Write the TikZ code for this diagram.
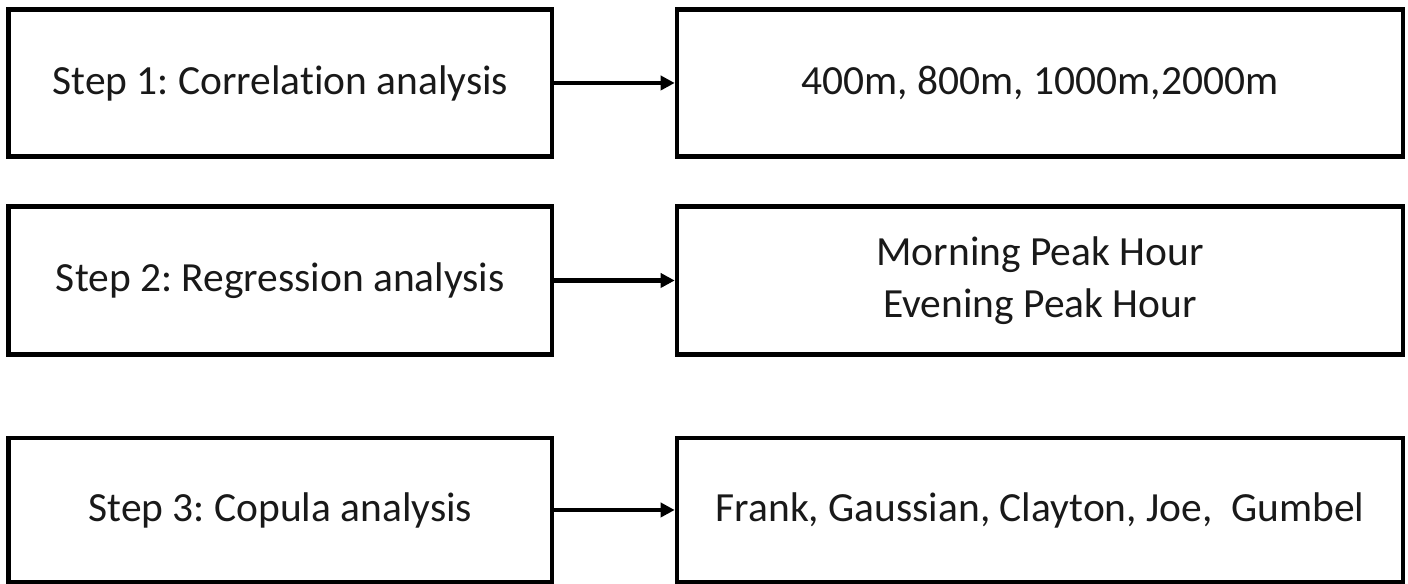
\documentclass[tikz,border=0pt]{standalone}
\usepackage{fontspec}
\setmainfont{Carlito}[Ligatures=NoCommon]
\frenchspacing
\usetikzlibrary{positioning, arrows.meta}
\colorlet{rule}{black}
\colorlet{ink}{black!90}
\tikzset{
  card/.style  ={draw=rule, line width=1.3pt, inner sep=0pt, align=center,
                 text=ink, font=\fontsize{11.8}{14.8}\selectfont,
                 minimum height=1.475cm},
  Lstep/.style ={card, minimum width=5.435cm},
  Lout/.style  ={card, minimum width=7.26cm},
  flow/.style  ={-{Triangle[length=1.4mm, width=1.4mm]}, rule,
                 line width=1.2pt},
}

\begin{document}
\begin{tikzpicture}
\useasboundingbox (0,0) rectangle (14.08,5.84);

% left column: analysis steps
\node[Lstep] (S1) at (2.803, 5.01)  {Step 1: Correlation analysis};
\node[Lstep] (S2) at (2.803, 3.035) {Step 2: Regression analysis};
\node[Lstep, minimum height=1.44cm] (S3) at (2.803, 0.74)
  {Step 3: Copula analysis};

% right column: what each step covers
\node[Lout] (R1) at (10.40, 5.01)  {400m, 800m, 1000m,2000m};
\node[Lout] (R2) at (10.40, 3.035) {Morning Peak Hour\\ Evening Peak Hour};
\node[Lout, minimum height=1.44cm] (R3) at (10.40, 0.74)
  {Frank, Gaussian, Clayton, Joe,\ \ Gumbel};

\draw[flow] (S1) -- (R1);
\draw[flow] (S2) -- (R2);
\draw[flow] (S3) -- (R3);

\end{tikzpicture}
\end{document}
